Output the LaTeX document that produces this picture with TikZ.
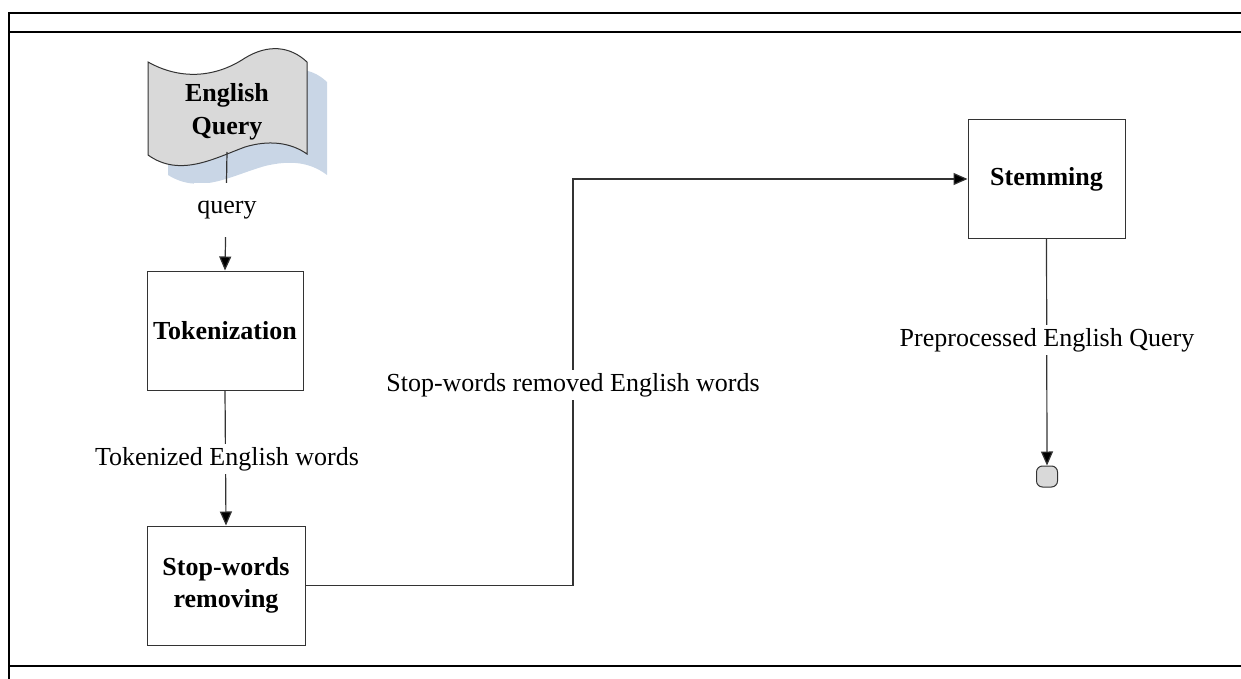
\documentclass[tikz,border=0pt]{standalone}
\usepackage{fontspec}
\setmainfont{Liberation Serif}
\usetikzlibrary{arrows.meta}
\definecolor{shadowblue}{HTML}{C9D6E6}
\definecolor{flaggray}{HTML}{D9D9D9}
\definecolor{linegray}{HTML}{333333}
\tikzset{
  procbox/.style={draw=linegray, line width=1pt, fill=white, minimum width=156pt, minimum height=119pt, align=center, font=\fontsize{26}{32}\selectfont\bfseries},
  conn/.style={draw=linegray, line width=1.2pt, -{Triangle[length=14pt,width=12pt,fill=black]}},
  lbl/.style={fill=white, inner sep=3pt, font=\fontsize{26}{30}\selectfont},
  frameline/.style={draw=black, line width=2.8pt},
}
\begin{document}
\begin{tikzpicture}[x=1pt,y=-1pt]
\useasboundingbox (0,0) rectangle (1241,679);
% frame
\draw[frameline] (1241,13) -- (9,13) -- (9,679);
\draw[frameline] (9,32) -- (1241,32);
\draw[frameline] (9,666) -- (1241,666);
% flag shadow
\fill[shadowblue] (168,82) .. controls (200,98) and (230,100) .. (265,80)
  .. controls (290,66) and (310,66) .. (327,82) -- (327,175)
  .. controls (310,162) and (290,160) .. (265,166)
  .. controls (230,176) and (200,195) .. (168,175) -- cycle;
% flag
\draw[linegray, line width=1pt, fill=flaggray] (148,62) .. controls (180,80) and (215,78) .. (245,58)
  .. controls (268,44) and (290,46) .. (307,62) -- (307,154)
  .. controls (290,142) and (268,140) .. (245,147)
  .. controls (215,158) and (180,178) .. (148,155) -- cycle;
\node[align=center, font=\fontsize{26}{33}\selectfont\bfseries] (eq) at (227,112) {English\\Query};
\coordinate (eqb) at (227,152);
% process boxes
\node[procbox] (tok) at (225,330.5) {Tokenization};
\node[procbox, minimum width=158pt] (stop) at (226,585.5) {Stop-words\\removing};
\node[procbox, minimum width=157pt, minimum height=118pt] (stem) at (1046.5,179) {Stemming};
\node[draw=linegray, line width=1pt, fill=flaggray, rounded corners=6pt, minimum width=21pt, minimum height=21pt, inner sep=0pt] (end) at (1047,476.5) {};
% connectors
\draw[conn] (eqb) -- (tok.north);
\node[lbl, minimum height=54pt, anchor=north] (lq) at (227,183) {query};
\draw[conn] (tok.south) -- (stop.north);
\node[lbl] (lt) at (227,459) {Tokenized English words};
\coordinate (c1) at (573,585.5);
\coordinate (c2) at (573,179);
\draw[conn] (stop.east) -- (c1) -- (c2) -- (stem.west);
\node[lbl] (ls) at (573,385) {Stop-words removed English words};
\draw[conn] (stem.south) -- (end.north);
\node[lbl] (lp) at (1047,340) {Preprocessed English Query};
\end{tikzpicture}
\end{document}
